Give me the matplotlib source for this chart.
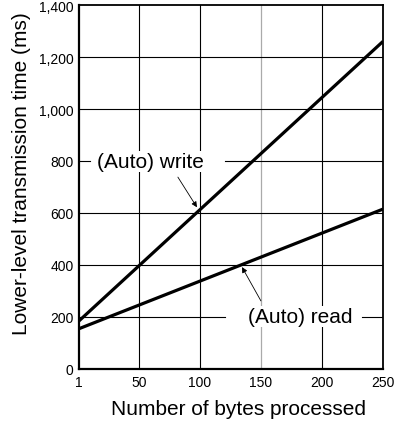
import matplotlib.pyplot as plt

plt.rcParams['font.family'] = ['Liberation Sans', 'DejaVu Sans']

x_ends = [1, 250]
write_ms = [185, 1260]
read_ms = [155, 615]

xticks = [1, 50, 100, 150, 200, 250]
yticks = [0, 200, 400, 600, 800, 1000, 1200, 1400]
ytick_labels = ['0', '200', '400', '600', '800', '1,000', '1,200', '1,400']

fig = plt.figure(figsize=(3.95, 4.27), dpi=100)
ax = fig.add_axes([79 / 395, 1 - 370 / 427, (383 - 79) / 395, (370 - 6) / 427])

# grid (150 line is lighter in the original)
for xv in [50, 100, 200]:
    ax.axvline(xv, color='black', lw=0.8, zorder=1)
ax.axvline(150, color='#aaaaaa', lw=0.9, zorder=1)
for yv in [400, 600, 1000, 1200]:
    ax.axhline(yv, color='black', lw=0.8, zorder=1)
# the 800 and 200 lines are broken where the labels sit
ax.axhline(800, xmax=0.036, color='black', lw=0.8, zorder=1)
ax.axhline(800, xmin=0.48, color='black', lw=0.8, zorder=1)
ax.axhline(200, xmax=0.48, color='black', lw=0.8, zorder=1)
ax.axhline(200, xmin=0.931, color='black', lw=0.8, zorder=1)

ax.plot(x_ends, write_ms, color='black', lw=2.3, solid_capstyle='butt', zorder=3)
ax.plot(x_ends, read_ms, color='black', lw=2.3, solid_capstyle='butt', zorder=3)

ax.set_xlim(1, 250)
ax.set_ylim(0, 1400)
ax.set_xticks(xticks)
ax.set_yticks(yticks)
ax.set_yticklabels(ytick_labels)
ax.tick_params(length=0, labelsize=10, pad=4)

for side in ['left', 'bottom']:
    ax.spines[side].set_linewidth(1.6)
for side in ['top', 'right']:
    ax.spines[side].set_linewidth(1.3)

box = dict(boxstyle='square,pad=0.05', fc='white', ec='none')
ax.text(59.6, 797, '(Auto) write', ha='center', va='center', fontsize=15,
        bbox=box, zorder=2)
ax.text(182.4, 203, '(Auto) read', ha='center', va='center', fontsize=15,
        bbox=box, zorder=2)

arrow = dict(arrowstyle='-|>', color='black', lw=0.6, mutation_scale=8,
             shrinkA=0, shrinkB=0)
ax.annotate('', xy=(97.6, 622), xytext=(82, 738), arrowprops=arrow, zorder=4)
ax.annotate('', xy=(134.5, 392), xytext=(150, 262), arrowprops=arrow, zorder=4)

ax.set_xlabel('Number of bytes processed', fontsize=15)
ax.xaxis.set_label_coords(0.526, -0.082)
ax.set_ylabel('Lower-level transmission time (ms)', fontsize=15)
ax.yaxis.set_label_coords(-0.158, 0.54)

fig.savefig('out.png', dpi=100)
